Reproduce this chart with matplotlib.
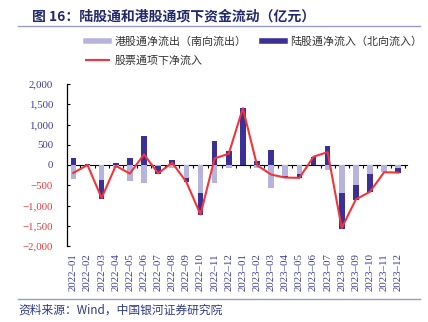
import numpy as np
import matplotlib
matplotlib.use("Agg")
import matplotlib.pyplot as plt
from matplotlib.lines import Line2D

months = ["2022-01", "2022-02", "2022-03", "2022-04", "2022-05", "2022-06",
          "2022-07", "2022-08", "2022-09", "2022-10", "2022-11", "2022-12",
          "2023-01", "2023-02", "2023-03", "2023-04", "2023-05", "2023-06",
          "2023-07", "2023-08", "2023-09", "2023-10", "2023-11", "2023-12"]
# 港股通净流出（南向流出）
south = [-340, -25, -380, -80, -390, -450, -15, -80, -310, -685, -455, -80,
         -10, -75, -580, -270, -220, -5, -130, -690, -490, -215, -180, -75]
# 陆股通净流入（北向流入）
north = [165, 30, -450, 60, 165, 725, -215, 120, -120, -540, 595, 350,
         1410, 100, 360, -55, -95, 205, 465, -880, -370, -450, -5, -115]
# 股票通项下净流入
total = [-195, 0, -815, -20, -212, 262, -205, 55, -420, -1222, 163, 277,
         1402, -5, -236, -310, -318, 204, 318, -1557, -848, -660, -179, -187]

c_light = "#b6b3dc"
c_dark = "#3a3095"
c_red = "#f5333a"
c_blue = "#3b3b9e"
c_neg = "#e83a3a"

plt.rcParams['font.family'] = ['Noto Sans CJK SC', 'DejaVu Sans']
serif = ['Liberation Serif', 'DejaVu Serif']

fig = plt.figure(figsize=(4.28, 3.22), dpi=100)
ax = fig.add_axes([67 / 428, 1 - 246 / 322, (407 - 67) / 428, (246 - 84) / 322])

x = np.arange(len(months))
s = np.array(south)
n = np.array(north)
dark_bottom = np.where(n < 0, s, 0)

ax.bar(x, s, width=0.4, color=c_light, zorder=2)
ax.bar(x, n, bottom=dark_bottom, width=0.4, color=c_dark, zorder=3)
ax.plot(x, total, color=c_red, lw=1.5, zorder=4)

ax.set_ylim(-2000, 2000)
ax.set_xlim(-0.45, 23.62)
yt = np.arange(-2000, 2001, 500)
ax.set_yticks(yt)
ax.set_yticklabels([f"{v:,}".replace("-", "\u2212") for v in yt])
for lab, v in zip(ax.get_yticklabels(), yt):
    lab.set_color(c_blue if v >= 0 else c_neg)
    lab.set_fontfamily(serif)
    lab.set_fontsize(7.8)
ax.tick_params(axis="y", direction="in", length=2.5, width=0.8, pad=10)

ax.set_xticks(x)
ax.set_xticklabels([m.replace("-", "\u2013") for m in months], rotation=90)
for lab in ax.get_xticklabels():
    lab.set_fontfamily(serif)
    lab.set_fontsize(7.8)
    lab.set_color(c_blue)
ax.tick_params(axis="x", length=0, pad=5)

for side in ["top", "right", "bottom"]:
    ax.spines[side].set_visible(False)
ax.spines["left"].set_linewidth(0.9)

zero = ax.secondary_xaxis(0.5)
zero.set_xticks(x + 0.5)
zero.tick_params(direction="in", length=2.5, width=0.8, labelbottom=False,
                 labeltop=False)
zero.set_xticklabels([])
zero.spines["bottom"].set_linewidth(1.0)

handles = [Line2D([], [], color=c_light, lw=4),
           Line2D([], [], color=c_red, lw=1.5),
           Line2D([], [], color=c_dark, lw=4)]
labels = ["港股通净流出（南向流出）", "股票通项下净流入", "陆股通净流入（北向流入）"]
fig.legend(handles, labels, loc="upper left", bbox_to_anchor=(86 / 428, 1 - 36 / 322),
           ncol=2, frameon=False, fontsize=7.9, handlelength=2.1,
           handletextpad=0.5, columnspacing=1.4, labelspacing=0.85,
           borderpad=0, borderaxespad=0, labelcolor="#333333")

fig.text(32 / 428, 1 - 16 / 322, "图 16：陆股通和港股通项下资金流动（亿元）",
         fontsize=10, fontweight="bold", color="#222a6e", va="center")
fig.add_artist(Line2D([18 / 428, 420 / 428], [1 - 25.5 / 322] * 2,
                      color="#9a9acb", lw=1.0))
fig.add_artist(Line2D([18 / 428, 420 / 428], [1 - 299 / 322] * 2,
                      color="#9a9acb", lw=1.0))
fig.text(18 / 428, 1 - 310 / 322, "资料来源：Wind，中国银河证券研究院",
         fontsize=8.5, color="#2e3a8c", va="center", style="italic")

fig.savefig("out.png", dpi=100)
